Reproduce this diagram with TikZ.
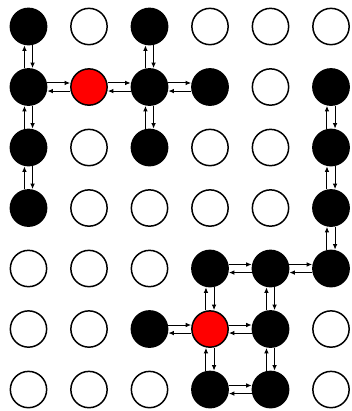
\documentclass[tikz,border=0pt]{standalone}
\usepackage{tikz}
\usetikzlibrary{arrows.meta}

\begin{document}
\begin{tikzpicture}[
  x=1cm, y=-1cm,
  cell/.style={circle, draw=black, line width=0.7pt, minimum size=0.6cm, inner sep=0pt},
  full/.style={cell, fill=black},
  empty/.style={cell, fill=white},
  seed/.style={cell, fill=red},
  arrow/.style={-{Latex[length=2.6pt,width=2.2pt]}, line width=0.45pt}
]
  \useasboundingbox (-0.471,-0.438) rectangle (5.331,6.355);

  % Row 1
  \node (c11) [full]  at (0,0) {};
  \node (c12) [empty] at (1,0) {};
  \node (c13) [full]  at (2,0) {};
  \node (c14) [empty] at (3,0) {};
  \node (c15) [empty] at (4,0) {};
  \node (c16) [empty] at (5,0) {};
  % Row 2
  \node (c21) [full]  at (0,1) {};
  \node (c22) [seed]  at (1,1) {};
  \node (c23) [full]  at (2,1) {};
  \node (c24) [full]  at (3,1) {};
  \node (c25) [empty] at (4,1) {};
  \node (c26) [full]  at (5,1) {};
  % Row 3
  \node (c31) [full]  at (0,2) {};
  \node (c32) [empty] at (1,2) {};
  \node (c33) [full]  at (2,2) {};
  \node (c34) [empty] at (3,2) {};
  \node (c35) [empty] at (4,2) {};
  \node (c36) [full]  at (5,2) {};
  % Row 4
  \node (c41) [full]  at (0,3) {};
  \node (c42) [empty] at (1,3) {};
  \node (c43) [empty] at (2,3) {};
  \node (c44) [empty] at (3,3) {};
  \node (c45) [empty] at (4,3) {};
  \node (c46) [full]  at (5,3) {};
  % Row 5
  \node (c51) [empty] at (0,4) {};
  \node (c52) [empty] at (1,4) {};
  \node (c53) [empty] at (2,4) {};
  \node (c54) [full]  at (3,4) {};
  \node (c55) [full]  at (4,4) {};
  \node (c56) [full]  at (5,4) {};
  % Row 6
  \node (c61) [empty] at (0,5) {};
  \node (c62) [empty] at (1,5) {};
  \node (c63) [full]  at (2,5) {};
  \node (c64) [seed]  at (3,5) {};
  \node (c65) [full]  at (4,5) {};
  \node (c66) [empty] at (5,5) {};
  % Row 7
  \node (c71) [empty] at (0,6) {};
  \node (c72) [empty] at (1,6) {};
  \node (c73) [empty] at (2,6) {};
  \node (c74) [full]  at (3,6) {};
  \node (c75) [full]  at (4,6) {};
  \node (c76) [empty] at (5,6) {};

  % Vertical links
  \foreach \u/\d in {c11/c21, c21/c31, c31/c41, c13/c23, c23/c33,
                     c26/c36, c36/c46, c46/c56, c54/c64, c64/c74,
                     c55/c65, c65/c75} {
    \draw [arrow] ([xshift=-1.9pt]\d.north) -- ([xshift=-1.9pt]\u.south);
    \draw [arrow] ([xshift=1.9pt]\u.south) -- ([xshift=1.9pt]\d.north);
  }

  % Horizontal links
  \foreach \l/\r in {c21/c22, c22/c23, c23/c24, c54/c55, c55/c56,
                     c63/c64, c64/c65, c74/c75} {
    \draw [arrow] ([yshift=1.9pt]\l.east) -- ([yshift=1.9pt]\r.west);
    \draw [arrow] ([yshift=-1.9pt]\r.west) -- ([yshift=-1.9pt]\l.east);
  }
\end{tikzpicture}
\end{document}
